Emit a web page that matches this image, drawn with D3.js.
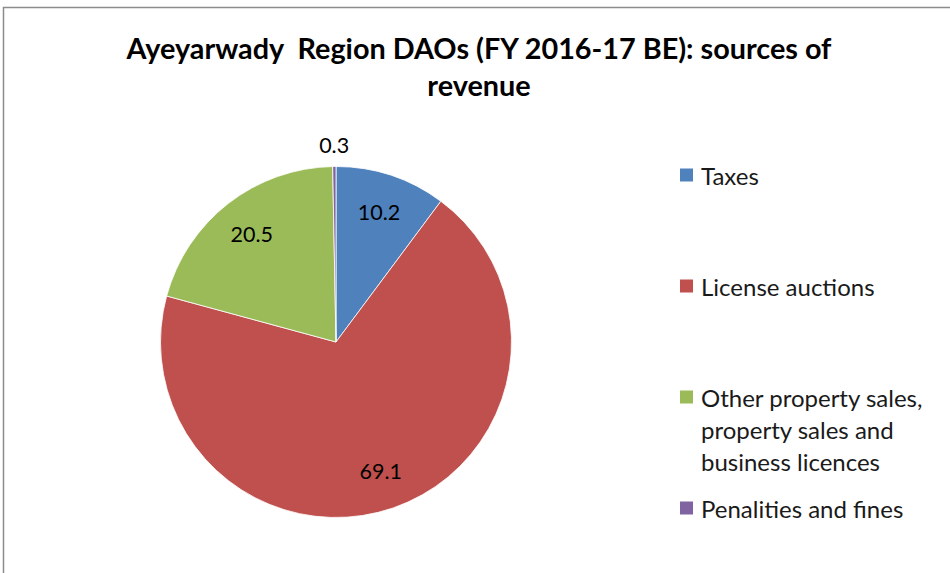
<!DOCTYPE html>
<html>
<head>
<meta charset="utf-8">
<script src="https://cdn.jsdelivr.net/npm/d3@7"></script>
<style>
  body { margin: 0; background: #fff; }
  svg { display: block; }
</style>
</head>
<body>
<div id="chart"></div>
<script>
// Ayeyarwady Region DAOs revenue sources (pie)
const categories = ["Taxes", "License auctions", "Other property sales, property sales and business licences", "Penalities and fines"];
const legendLines = [["Taxes"], ["License auctions"], ["Other property sales,", "property sales and", "business licences"], ["Penalities and fines"]];
const values = [10.2, 69.1, 20.5, 0.3];
const colors = ["#4F81BD", "#C0504D", "#9BBB59", "#8064A2"];

const width = 950, height = 573;
const font = "Lato, 'Open Sans', sans-serif";

const svg = d3.select("#chart")
  .append("svg")
  .attr("width", width)
  .attr("height", height)
  .style("font-family", font);

// chart frame (right / bottom edges run off the page)
svg.append("rect")
  .attr("x", 3.5)
  .attr("y", 7.5)
  .attr("width", width + 10)
  .attr("height", height + 10)
  .attr("fill", "white")
  .attr("stroke", "#8c8c8c")
  .attr("stroke-width", 1.5);

// Title
svg.append("text")
  .attr("x", 479)
  .attr("y", 59)
  .attr("text-anchor", "middle")
  .attr("font-size", "28.8px")
  .attr("font-weight", "bold")
  .attr("fill", "#000")
  .style("white-space", "pre")
  .text("Ayeyarwady  Region DAOs (FY 2016-17 BE): sources of");
svg.append("text")
  .attr("x", 479)
  .attr("y", 96)
  .attr("text-anchor", "middle")
  .attr("font-size", "28.8px")
  .attr("font-weight", "bold")
  .attr("fill", "#000")
  .text("revenue");

// Pie
const cx = 336, cy = 342, radius = 175.5;
const pie = d3.pie().sort(null).value(d => d);
const arc = d3.arc().innerRadius(0).outerRadius(radius);
const arcs = pie(values);

const g = svg.append("g").attr("transform", `translate(${cx},${cy})`);

g.selectAll("path")
  .data(arcs)
  .enter()
  .append("path")
    .attr("d", arc)
    .attr("fill", (d, i) => colors[i])
    .attr("stroke", "white")
    .attr("stroke-width", 0.8);

// Data labels: inside for big slices, outside for tiny ones
const labelArc = d3.arc().innerRadius(radius * 0.78).outerRadius(radius * 0.78);
const outArc = d3.arc().innerRadius(radius * 1.12).outerRadius(radius * 1.12);
g.selectAll("text.lbl")
  .data(arcs)
  .enter()
  .append("text")
    .attr("class", "lbl")
    .attr("transform", d => {
      const c = (d.endAngle - d.startAngle) < 0.2 ? outArc.centroid(d) : labelArc.centroid(d);
      return `translate(${c})`;
    })
    .attr("text-anchor", "middle")
    .attr("dominant-baseline", "central")
    .attr("font-size", "21.5px")
    .attr("fill", "#000")
    .text(d => d.data.toFixed(1));

// Legend
const legendRows = [175, 286, 397, 508];
const legend = svg.append("g");
legendLines.forEach((lines, i) => {
  const y = legendRows[i];
  legend.append("rect")
    .attr("x", 680)
    .attr("y", y - 6.5)
    .attr("width", 13)
    .attr("height", 13)
    .attr("fill", colors[i]);
  lines.forEach((line, j) => {
    legend.append("text")
      .attr("x", 701)
      .attr("y", y + j * 32)
      .attr("dominant-baseline", "central")
      .attr("font-size", "24px")
      .attr("fill", "#1a1a1a")
      .text(line);
  });
});
</script>
</body>
</html>
